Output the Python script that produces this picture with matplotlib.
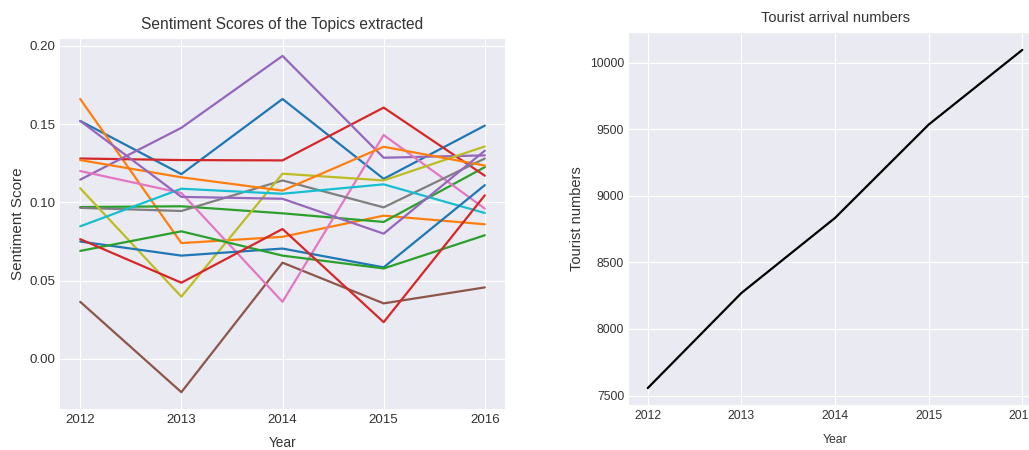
import matplotlib.pyplot as plt

plt.style.use("seaborn-v0_8-darkgrid")
plt.rcParams["font.family"] = ["Liberation Sans", "DejaVu Sans"]

years = [2012, 2013, 2014, 2015, 2016]

# sentiment score per topic, one list per topic
topic_01 = [0.152, 0.118, 0.166, 0.115, 0.149]
topic_02 = [0.166, 0.074, 0.078, 0.0915, 0.086]
topic_03 = [0.097, 0.0975, 0.093, 0.0875, 0.1225]
topic_04 = [0.128, 0.127, 0.1268, 0.1605, 0.117]
topic_05 = [0.1145, 0.1476, 0.1935, 0.1285, 0.130]
topic_06 = [0.0365, -0.0212, 0.0615, 0.0355, 0.0457]
topic_07 = [0.120, 0.106, 0.0365, 0.143, 0.096]
topic_08 = [0.0965, 0.0945, 0.114, 0.0968, 0.128]
topic_09 = [0.109, 0.0398, 0.1183, 0.114, 0.1357]
topic_10 = [0.0847, 0.1087, 0.1055, 0.1115, 0.0932]
topic_11 = [0.075, 0.066, 0.0705, 0.0585, 0.111]
topic_12 = [0.127, 0.116, 0.1075, 0.1355, 0.1235]
topic_13 = [0.069, 0.0815, 0.066, 0.0578, 0.079]
topic_14 = [0.0765, 0.0487, 0.083, 0.0235, 0.1045]
topic_15 = [0.152, 0.1035, 0.1023, 0.080, 0.133]

topics = [topic_01, topic_02, topic_03, topic_04, topic_05,
          topic_06, topic_07, topic_08, topic_09, topic_10,
          topic_11, topic_12, topic_13, topic_14, topic_15]

tourists = [7556, 8270, 8834, 9535, 10096]

text_col = "#333333"

fig = plt.figure(figsize=(10.29, 4.5), dpi=100)
ax1 = fig.add_axes([0.0583, 0.0911, 0.4325, 0.822])
ax2 = fig.add_axes([0.6113, 0.1, 0.4004, 0.8267])

# tab10 cycle, 15 topics wrap round after the tenth
tab10 = ["#1f77b4", "#ff7f0e", "#2ca02c", "#d62728", "#9467bd",
         "#8c564b", "#e377c2", "#7f7f7f", "#bcbd22", "#17becf"]
for i, t in enumerate(topics):
    ax1.plot(years, t, color=tab10[i % 10], linewidth=1.6)

ax1.set_title("Sentiment Scores of the Topics extracted", fontsize=11.2, color=text_col, pad=7)
ax1.set_xlabel("Year", fontsize=9.8, color=text_col, labelpad=7)
ax1.set_ylabel("Sentiment Score", fontsize=11, color=text_col, labelpad=3)
ax1.set_xticks(years)
ax1.set_yticks([0.00, 0.05, 0.10, 0.15, 0.20])
ax1.tick_params(labelsize=9.6, labelcolor=text_col)

ax2.plot(years, tourists, color="black", linewidth=1.6)
ax2.set_title("Tourist arrival numbers", fontsize=10.5, color=text_col, pad=8)
ax2.set_xlabel("Year", fontsize=8.8, color=text_col, labelpad=9)
ax2.set_ylabel("Tourist numbers", fontsize=10.5, color=text_col, labelpad=4)
ax2.set_xticks(years)
ax2.set_yticks([7500, 8000, 8500, 9000, 9500, 10000])
ax2.tick_params(labelsize=8.7, labelcolor=text_col)

fig.savefig("out.png", dpi=100)
